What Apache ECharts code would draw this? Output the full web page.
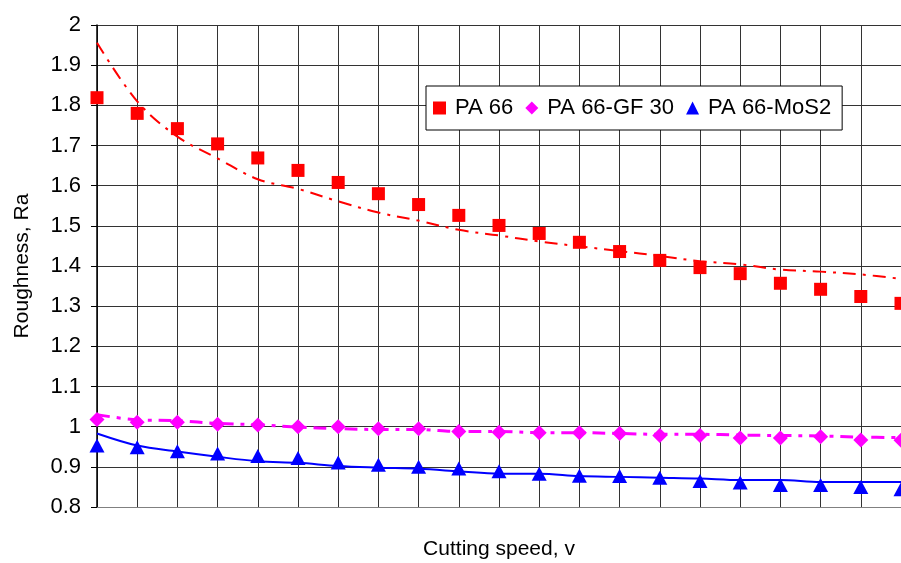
<!DOCTYPE html>
<html><head><meta charset="utf-8">
<script src="https://cdn.jsdelivr.net/npm/echarts@6/dist/echarts.min.js"></script>
<style>html,body{margin:0;padding:0;background:#fff}#c{width:901px;height:563px}</style>
</head><body><div id="c"></div>
<script>
const speedSteps = [0,1,2,3,4,5,6,7,8,9,10,11,12,13,14,15,16,17,18,19,20];
const seriesNames = ['PA 66', 'PA 66-GF 30', 'PA 66-MoS2'];
const pa66 = [1.819,1.780,1.742,1.704,1.669,1.638,1.608,1.580,1.553,1.526,1.501,1.481,1.459,1.436,1.414,1.396,1.381,1.357,1.342,1.324,1.307];
const pa66Trend = [1.956,1.810,1.722,1.668,1.616,1.592,1.561,1.533,1.513,1.490,1.476,1.461,1.449,1.437,1.425,1.412,1.404,1.391,1.386,1.379,1.368];
const pa66gf = [1.018,1.011,1.011,1.006,1.004,1.000,1.000,0.995,0.995,0.988,0.986,0.985,0.985,0.983,0.978,0.978,0.972,0.972,0.975,0.967,0.966];
const pa66gfTrend = [1.030,1.017,1.015,1.008,1.005,0.999,0.995,0.993,0.993,0.988,0.988,0.985,0.985,0.983,0.981,0.981,0.979,0.978,0.977,0.974,0.973];
const pa66mos = [0.953,0.949,0.939,0.933,0.927,0.922,0.911,0.905,0.900,0.896,0.889,0.883,0.878,0.877,0.873,0.865,0.861,0.855,0.855,0.850,0.844];
const pa66mosTrend = [0.983,0.953,0.938,0.925,0.914,0.910,0.902,0.898,0.895,0.889,0.883,0.883,0.877,0.875,0.873,0.871,0.867,0.867,0.862,0.862,0.862];
const yTicks = {min: 0.8, max: 2, interval: 0.1};

const pairs = arr => speedSteps.map((x, i) => [x, arr[i]]);
const FONT = "'Liberation Sans', Arial, sans-serif";
const chart = echarts.init(document.getElementById('c'), null, {renderer: 'canvas'});
chart.setOption({
  animation: false,
  backgroundColor: '#fff',
  grid: {left: 97, top: 25, right: 0, bottom: 56, containLabel: false, outerBoundsMode: 'none'},
  xAxis: {
    type: 'value', min: 0, max: 20, interval: 1,
    name: 'Cutting speed, v', nameLocation: 'middle', nameGap: 32,
    nameTextStyle: {fontFamily: FONT, fontSize: 21, color: '#000'},
    axisLabel: {show: false}, axisTick: {show: false},
    axisLine: {lineStyle: {color: '#808080', width: 1}},
    splitLine: {show: true, lineStyle: {color: '#333', width: 1}}
  },
  yAxis: {
    type: 'value', min: yTicks.min, max: yTicks.max, interval: yTicks.interval,
    name: 'Roughness, Ra', nameLocation: 'middle', nameGap: 64, nameRotate: 90,
    nameTextStyle: {fontFamily: FONT, fontSize: 21, color: '#000'},
    axisLabel: {fontFamily: FONT, fontSize: 22, color: '#000', margin: 16,
      formatter: v => String(Math.round(v * 10) / 10)},
    axisTick: {show: true, length: 6, lineStyle: {color: '#000'}},
    axisLine: {show: true, lineStyle: {color: '#000', width: 1.5}},
    splitLine: {show: true, lineStyle: {color: '#333', width: 1}}
  },
  legend: {
    data: seriesNames,
    left: 426, top: 86,
    backgroundColor: '#fff', borderColor: '#000', borderWidth: 1,
    padding: [11, 11, 11, 7],
    itemWidth: 13, itemHeight: 13, itemGap: 12,
    textStyle: {fontFamily: FONT, fontSize: 22, color: '#000', padding: [0, 0, 0, 4]}
  },
  series: [
    {name: 'PA 66 trend', type: 'line', data: pairs(pa66Trend), smooth: 0.35, symbol: 'none',
      lineStyle: {color: '#ff0000', width: 2, type: [13, 7, 3, 7]}, silent: true, z: 1},
    {name: 'PA 66-GF 30 trend', type: 'line', data: pairs(pa66gfTrend), smooth: 0.35, symbol: 'none',
      lineStyle: {color: '#ff00ff', width: 3, type: [13, 7, 4, 7]}, silent: true, z: 1},
    {name: 'PA 66-MoS2 trend', type: 'line', data: pairs(pa66mosTrend), smooth: 0.35, symbol: 'none',
      lineStyle: {color: '#0000ff', width: 2}, silent: true, z: 1},
    {name: seriesNames[0], type: 'scatter', data: pairs(pa66), symbol: 'rect', symbolSize: 13,
      itemStyle: {color: '#ff0000', opacity: 1}, z: 3},
    {name: seriesNames[1], type: 'scatter', data: pairs(pa66gf), symbol: 'diamond', symbolSize: 15,
      itemStyle: {color: '#ff00ff', opacity: 1}, z: 3},
    {name: seriesNames[2], type: 'scatter', data: pairs(pa66mos), symbol: 'triangle', symbolSize: [15, 14],
      itemStyle: {color: '#0000ff', opacity: 1}, z: 3}
  ]
});
</script></body></html>
